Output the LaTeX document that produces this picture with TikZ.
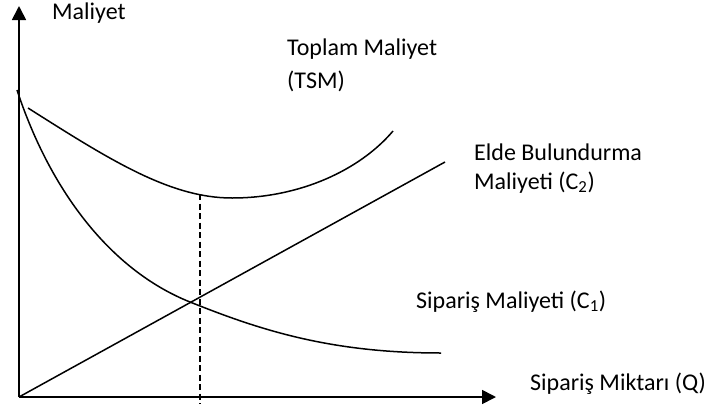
\documentclass[tikz,border=0pt]{standalone}
\usepackage{fontspec}
\setmainfont{Carlito}
\usetikzlibrary{arrows.meta}
\begin{document}
\begin{tikzpicture}[x=1pt,y=-1pt,
  curve/.style={line width=1.5pt},
  axis/.style={line width=1.7pt,-{Triangle[length=14pt,width=14pt]}},
  lbl/.style={anchor=base west,inner sep=0pt,font=\fontsize{24}{28}\selectfont}]
\useasboundingbox (0,0) rectangle (709,407);
\coordinate (O) at (19,397);
\coordinate (ytop) at (19,6);
\coordinate (xend) at (496,397);
\coordinate (c2end) at (445,162);
\coordinate (c1start) at (17,90);
\coordinate (c1mid) at (190,302);
\coordinate (c1end) at (441,353);
\coordinate (tsmstart) at (28,108);
\coordinate (tsmmin) at (232,198);
\coordinate (tsmend) at (393,131);
\coordinate (qstar) at (200,194);
\coordinate (qbot) at (200,404);
\draw[axis] (O) -- (ytop);
\draw[axis] (O) -- (xend);
% holding cost line
\draw[curve] (O) -- (c2end);
% ordering cost curve
\draw[curve] (c1start) .. controls (50,190) and (110,270) .. (c1mid)
  .. controls (260,330) and (330,353) .. (c1end);
% total cost curve
\draw[curve] (tsmstart) .. controls (110,160) and (170,198) .. (tsmmin)
  .. controls (300,198) and (360,170) .. (tsmend);
% optimum
\draw[line width=1.5pt,dash pattern=on 6pt off 3.5pt] (qstar) -- (qbot);
% labels
\node[lbl] (ylab) at (52,19) {Maliyet};
\node[lbl] (tsm1) at (287,55) {Toplam Maliyet};
\node[lbl] (tsm2) at (287,88) {(TSM)};
\node[lbl] (c2a) at (474,160) {Elde Bulundurma};
\node[lbl] (c2b) at (474,189) {Maliyeti (C\textsubscript{2})};
\node[lbl] (c1) at (416,308) {Sipariş Maliyeti (C\textsubscript{1})};
\node[lbl] (xlab) at (530,390) {Sipariş Miktarı (Q)};
\end{tikzpicture}
\end{document}
